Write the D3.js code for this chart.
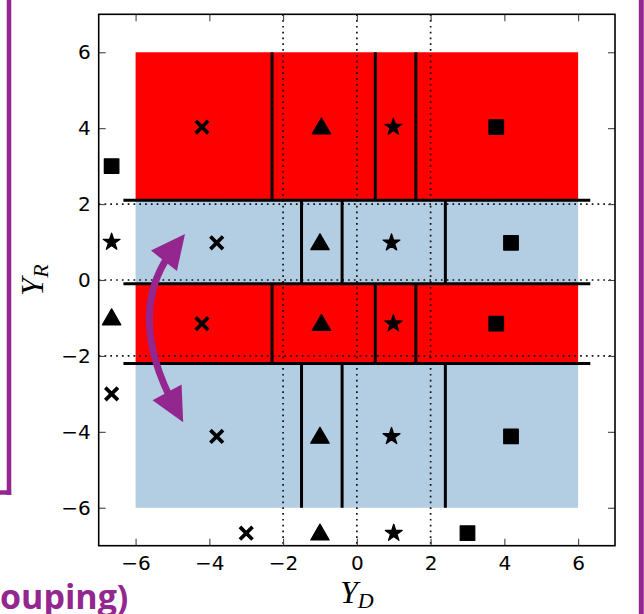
<!DOCTYPE html>
<html>
<head>
<meta charset="utf-8">
<script src="https://cdn.jsdelivr.net/npm/d3@7"></script>
<style>
  html, body { margin: 0; padding: 0; background: #fff; }
  svg { display: block; }
</style>
</head>
<body>
<svg id="chart" width="644" height="614"></svg>
<script>
// ---------- data ----------
const tickValues = [-6, -4, -2, 0, 2, 4, 6];
const regionX = [-6, 6];
const redBands = [[2.1, 6], [-2.2, -0.1]];
const blueBands = [[-0.1, 2.1], [-6, -2.2]];
const redSplitX = [-2.3, 0.5, 1.6];
const blueSplitX = [-1.5, -0.4, 2.4];
const boundaryY = [2.1, -0.1, -2.2];
const boundaryX = [-6.33, 6.33];
const dottedX = [-2, 0, 2];
const dottedY = [-2, 0, 2];
const shapes = ["x", "triangle", "star", "square"];
const redRowY = [4.03, -1.15];
const redColX = [-4.2, -0.96, 0.99, 3.78];
const blueRowY = [0.98, -4.12];
const blueColX = [-3.8, -1.0, 0.94, 4.18];
const leftColX = -6.65;
const leftRowY = [-3, -1, 1, 3];
const bottomRowY = -6.67;
const bottomColX = [-3, -1, 1, 3];
const arrowTips = [[-4.71, -3.75], [-4.66, 1.21]];
const arrowControl = [-6.32, -0.84];

// ---------- layout ----------
const svg = d3.select("#chart");
const x = d3.scaleLinear().domain([-7, 7]).range([98.7, 615]);
const y = d3.scaleLinear().domain([-7, 7]).range([545.7, 14.3]);
const RED = "#ff0000", BLUE = "#b3cde3", PURPLE = "#93278f";

// slide decorations (cropped)
svg.append("line").attr("x1", 9).attr("x2", 9).attr("y1", 0).attr("y2", 495)
  .attr("stroke", PURPLE).attr("stroke-width", 4.5);
svg.append("line").attr("x1", 0).attr("x2", 11.2).attr("y1", 492.5).attr("y2", 492.5)
  .attr("stroke", PURPLE).attr("stroke-width", 4.5);
svg.append("line").attr("x1", 641.3).attr("x2", 641.3).attr("y1", 0).attr("y2", 614)
  .attr("stroke", PURPLE).attr("stroke-width", 5);
svg.append("text").attr("x", 0).attr("y", 609)
  .attr("font-family", "'Open Sans', Lato, sans-serif").attr("font-weight", "bold")
  .attr("font-size", 34).attr("fill", PURPLE).text("ouping)");

const plot = svg.append("g");

// coloured regions
plot.selectAll("rect.red").data(redBands).join("rect").attr("class", "red")
  .attr("x", x(regionX[0])).attr("width", x(regionX[1]) - x(regionX[0]))
  .attr("y", d => y(d[1])).attr("height", d => y(d[0]) - y(d[1]))
  .attr("fill", RED);
plot.selectAll("rect.blue").data(blueBands).join("rect").attr("class", "blue")
  .attr("x", x(regionX[0])).attr("width", x(regionX[1]) - x(regionX[0]))
  .attr("y", d => y(d[1])).attr("height", d => y(d[0]) - y(d[1]))
  .attr("fill", BLUE);

// dotted reference lines
plot.selectAll("line.dx").data(dottedX).join("line").attr("class", "dx")
  .attr("x1", d => x(d)).attr("x2", d => x(d)).attr("y1", y(7)).attr("y2", y(-7))
  .attr("stroke", "#111").attr("stroke-width", 1.7).attr("stroke-dasharray", "1.7,4.1");
plot.selectAll("line.dy").data(dottedY).join("line").attr("class", "dy")
  .attr("y1", d => y(d)).attr("y2", d => y(d)).attr("x1", x(-7)).attr("x2", x(7))
  .attr("stroke", "#111").attr("stroke-width", 1.7).attr("stroke-dasharray", "1.7,4.1");

// boundary lines
const vSeg = [];
redBands.forEach(b => redSplitX.forEach(v => vSeg.push({x: v, y0: b[0], y1: b[1]})));
blueBands.forEach(b => blueSplitX.forEach(v => vSeg.push({x: v, y0: b[0], y1: b[1]})));
plot.selectAll("line.v").data(vSeg).join("line").attr("class", "v")
  .attr("x1", d => x(d.x)).attr("x2", d => x(d.x))
  .attr("y1", d => y(d.y0)).attr("y2", d => y(d.y1))
  .attr("stroke", "#000").attr("stroke-width", 3);
plot.selectAll("line.h").data(boundaryY).join("line").attr("class", "h")
  .attr("y1", d => y(d)).attr("y2", d => y(d))
  .attr("x1", x(boundaryX[0])).attr("x2", x(boundaryX[1]))
  .attr("stroke", "#000").attr("stroke-width", 3);

// markers
const pts = [];
redRowY.forEach(ry => redColX.forEach((cx, i) => pts.push({x: cx, y: ry, s: shapes[i]})));
blueRowY.forEach(ry => blueColX.forEach((cx, i) => pts.push({x: cx, y: ry, s: shapes[i]})));
leftRowY.forEach((ry, i) => pts.push({x: leftColX, y: ry, s: shapes[i]}));
bottomColX.forEach((cx, i) => pts.push({x: cx, y: bottomRowY, s: shapes[i]}));

const sym = {
  square: d3.symbol(d3.symbolSquare, 210)(),
  triangle: d3.symbol(d3.symbolTriangle, 145)(),
  star: d3.symbol(d3.symbolStar, 88)()
};
const mg = plot.append("g");
pts.forEach(p => {
  const g = mg.append("g").attr("transform", `translate(${x(p.x)},${y(p.y)})`);
  if (p.s === "x") {
    const r = 6.3;
    g.append("path").attr("d", `M${-r},${-r}L${r},${r}M${-r},${r}L${r},${-r}`)
      .attr("stroke", "#000").attr("stroke-width", 3.7).attr("fill", "none");
  } else {
    g.append("path").attr("d", sym[p.s])
      .attr("transform", p.s === "triangle" ? "translate(0,1.5)" : null)
      .attr("fill", "#000").attr("stroke", "#000").attr("stroke-width", 1.3)
      .attr("stroke-linejoin", "round");
  }
});

// axes (ticks inward on all four sides)
const tickFmt = d3.format("");
function styleAxis(g) {
  g.select(".domain").remove();
  g.selectAll(".tick line").attr("stroke", "#444").attr("stroke-width", 1.1);
  g.selectAll(".tick text").attr("font-family", "'DejaVu Sans', sans-serif")
    .attr("font-size", 20).attr("fill", "#000");
}
svg.append("g").attr("transform", `translate(0,${y(-7)})`)
  .call(d3.axisBottom(x).tickValues(tickValues).tickFormat(tickFmt).tickSize(-7).tickPadding(10))
  .call(styleAxis);
svg.append("g").attr("transform", `translate(0,${y(7)})`)
  .call(d3.axisTop(x).tickValues(tickValues).tickFormat("").tickSize(-7))
  .call(styleAxis);
svg.append("g").attr("transform", `translate(${x(-7)},0)`)
  .call(d3.axisLeft(y).tickValues(tickValues).tickFormat(tickFmt).tickSize(-7).tickPadding(8))
  .call(styleAxis);
svg.append("g").attr("transform", `translate(${x(7)},0)`)
  .call(d3.axisRight(y).tickValues(tickValues).tickFormat("").tickSize(-7))
  .call(styleAxis);

// frame
svg.append("rect").attr("x", x(-7)).attr("y", y(7))
  .attr("width", x(7) - x(-7)).attr("height", y(-7) - y(7))
  .attr("fill", "none").attr("stroke", "#000").attr("stroke-width", 1.6);

// curved double arrow
(function () {
  const P0 = [x(arrowTips[0][0]), y(arrowTips[0][1])];
  const P2 = [x(arrowTips[1][0]), y(arrowTips[1][1])];
  const P1 = [x(arrowControl[0]), y(arrowControl[1])];
  const L = 34, W = 33;
  function unit(a, b) { const dx = a[0] - b[0], dy = a[1] - b[1], n = Math.hypot(dx, dy); return [dx / n, dy / n]; }
  const t0 = unit(P0, P1), t2 = unit(P2, P1);
  const S0 = [P0[0] - 0.5 * L * t0[0], P0[1] - 0.5 * L * t0[1]];
  const S2 = [P2[0] - 0.5 * L * t2[0], P2[1] - 0.5 * L * t2[1]];
  const ag = svg.append("g");
  const path = d3.path();
  path.moveTo(S0[0], S0[1]);
  path.quadraticCurveTo(P1[0], P1[1], S2[0], S2[1]);
  ag.append("path").attr("d", path.toString()).attr("fill", "none")
    .attr("stroke", PURPLE).attr("stroke-width", 7);
  [[P0, t0], [P2, t2]].forEach(([P, t]) => {
    const B = [P[0] - L * t[0], P[1] - L * t[1]];
    const n = [-t[1], t[0]];
    const tri = [P, [B[0] + n[0] * W / 2, B[1] + n[1] * W / 2], [B[0] - n[0] * W / 2, B[1] - n[1] * W / 2]];
    ag.append("path").attr("d", "M" + tri.map(q => q.join(",")).join("L") + "Z")
      .attr("fill", PURPLE);
  });
})();

// axis labels
const serif = "'Liberation Serif', 'DejaVu Serif', serif";
const xl = svg.append("text").attr("x", x(0)).attr("y", 603).attr("text-anchor", "middle")
  .attr("font-family", serif).attr("font-style", "italic").attr("font-size", 32).attr("fill", "#000");
xl.append("tspan").text("Y");
xl.append("tspan").attr("font-size", 22).attr("dy", 5).text("D");
const yl = svg.append("text").attr("transform", `translate(43,${y(0)}) rotate(-90)`)
  .attr("text-anchor", "middle")
  .attr("font-family", serif).attr("font-style", "italic").attr("font-size", 32).attr("fill", "#000");
yl.append("tspan").text("Y");
yl.append("tspan").attr("font-size", 22).attr("dy", 5).text("R");
</script>
</body>
</html>
